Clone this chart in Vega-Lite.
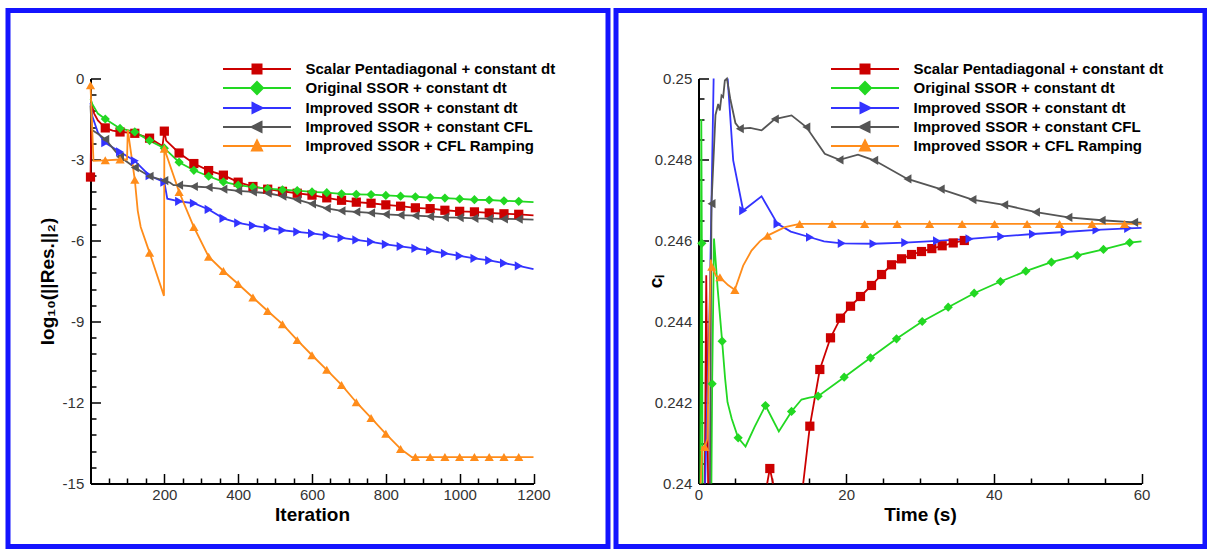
{
  "$schema": "https://vega.github.io/schema/vega-lite/v6.json",
  "padding": {"left": 5, "top": 7.5, "right": 0, "bottom": 0},
  "autosize": {"type": "pad"},
  "background": "white",
  "spacing": 2,
  "datasets": {
    "legend": [
      {"series": "Scalar Pentadiagonal + constant dt"},
      {"series": "Original SSOR + constant dt"},
      {"series": "Improved SSOR + constant dt"},
      {"series": "Improved SSOR + constant CFL"},
      {"series": "Improved SSOR + CFL Ramping"}
    ],
    "left": [
      {"series": "Scalar Pentadiagonal + constant dt", "x": 0, "y": -3.65, "marker": 1},
      {"series": "Scalar Pentadiagonal + constant dt", "x": 3, "y": -0.95, "marker": 0},
      {"series": "Scalar Pentadiagonal + constant dt", "x": 10, "y": -1.3, "marker": 0},
      {"series": "Scalar Pentadiagonal + constant dt", "x": 20, "y": -1.55, "marker": 0},
      {"series": "Scalar Pentadiagonal + constant dt", "x": 40, "y": -1.83, "marker": 1},
      {"series": "Scalar Pentadiagonal + constant dt", "x": 60, "y": -1.93, "marker": 0},
      {"series": "Scalar Pentadiagonal + constant dt", "x": 80, "y": -1.98, "marker": 1},
      {"series": "Scalar Pentadiagonal + constant dt", "x": 100, "y": -2.0, "marker": 0},
      {"series": "Scalar Pentadiagonal + constant dt", "x": 120, "y": -2.03, "marker": 1},
      {"series": "Scalar Pentadiagonal + constant dt", "x": 160, "y": -2.21, "marker": 1},
      {"series": "Scalar Pentadiagonal + constant dt", "x": 195, "y": -2.5, "marker": 0},
      {"series": "Scalar Pentadiagonal + constant dt", "x": 200, "y": -1.95, "marker": 1},
      {"series": "Scalar Pentadiagonal + constant dt", "x": 205, "y": -2.3, "marker": 0},
      {"series": "Scalar Pentadiagonal + constant dt", "x": 240, "y": -2.76, "marker": 1},
      {"series": "Scalar Pentadiagonal + constant dt", "x": 280, "y": -3.15, "marker": 1},
      {"series": "Scalar Pentadiagonal + constant dt", "x": 320, "y": -3.41, "marker": 1},
      {"series": "Scalar Pentadiagonal + constant dt", "x": 360, "y": -3.58, "marker": 1},
      {"series": "Scalar Pentadiagonal + constant dt", "x": 400, "y": -3.84, "marker": 1},
      {"series": "Scalar Pentadiagonal + constant dt", "x": 440, "y": -4.0, "marker": 1},
      {"series": "Scalar Pentadiagonal + constant dt", "x": 480, "y": -4.1, "marker": 1},
      {"series": "Scalar Pentadiagonal + constant dt", "x": 520, "y": -4.18, "marker": 1},
      {"series": "Scalar Pentadiagonal + constant dt", "x": 560, "y": -4.25, "marker": 1},
      {"series": "Scalar Pentadiagonal + constant dt", "x": 600, "y": -4.32, "marker": 1},
      {"series": "Scalar Pentadiagonal + constant dt", "x": 640, "y": -4.42, "marker": 1},
      {"series": "Scalar Pentadiagonal + constant dt", "x": 680, "y": -4.51, "marker": 1},
      {"series": "Scalar Pentadiagonal + constant dt", "x": 720, "y": -4.58, "marker": 1},
      {"series": "Scalar Pentadiagonal + constant dt", "x": 760, "y": -4.62, "marker": 1},
      {"series": "Scalar Pentadiagonal + constant dt", "x": 800, "y": -4.68, "marker": 1},
      {"series": "Scalar Pentadiagonal + constant dt", "x": 840, "y": -4.73, "marker": 1},
      {"series": "Scalar Pentadiagonal + constant dt", "x": 880, "y": -4.79, "marker": 1},
      {"series": "Scalar Pentadiagonal + constant dt", "x": 920, "y": -4.82, "marker": 1},
      {"series": "Scalar Pentadiagonal + constant dt", "x": 960, "y": -4.88, "marker": 1},
      {"series": "Scalar Pentadiagonal + constant dt", "x": 1000, "y": -4.92, "marker": 1},
      {"series": "Scalar Pentadiagonal + constant dt", "x": 1040, "y": -4.94, "marker": 1},
      {"series": "Scalar Pentadiagonal + constant dt", "x": 1080, "y": -4.98, "marker": 1},
      {"series": "Scalar Pentadiagonal + constant dt", "x": 1120, "y": -5.01, "marker": 1},
      {"series": "Scalar Pentadiagonal + constant dt", "x": 1160, "y": -5.03, "marker": 1},
      {"series": "Scalar Pentadiagonal + constant dt", "x": 1200, "y": -5.07, "marker": 0},

      {"series": "Original SSOR + constant dt", "x": 0, "y": -0.75, "marker": 0},
      {"series": "Original SSOR + constant dt", "x": 5, "y": -0.95, "marker": 0},
      {"series": "Original SSOR + constant dt", "x": 20, "y": -1.3, "marker": 0},
      {"series": "Original SSOR + constant dt", "x": 40, "y": -1.5, "marker": 1},
      {"series": "Original SSOR + constant dt", "x": 80, "y": -1.85, "marker": 1},
      {"series": "Original SSOR + constant dt", "x": 120, "y": -1.98, "marker": 1},
      {"series": "Original SSOR + constant dt", "x": 160, "y": -2.3, "marker": 1},
      {"series": "Original SSOR + constant dt", "x": 200, "y": -2.58, "marker": 1},
      {"series": "Original SSOR + constant dt", "x": 240, "y": -3.1, "marker": 1},
      {"series": "Original SSOR + constant dt", "x": 280, "y": -3.4, "marker": 1},
      {"series": "Original SSOR + constant dt", "x": 320, "y": -3.62, "marker": 1},
      {"series": "Original SSOR + constant dt", "x": 360, "y": -3.83, "marker": 1},
      {"series": "Original SSOR + constant dt", "x": 400, "y": -3.95, "marker": 1},
      {"series": "Original SSOR + constant dt", "x": 440, "y": -4.02, "marker": 1},
      {"series": "Original SSOR + constant dt", "x": 480, "y": -4.08, "marker": 1},
      {"series": "Original SSOR + constant dt", "x": 520, "y": -4.12, "marker": 1},
      {"series": "Original SSOR + constant dt", "x": 560, "y": -4.15, "marker": 1},
      {"series": "Original SSOR + constant dt", "x": 600, "y": -4.2, "marker": 1},
      {"series": "Original SSOR + constant dt", "x": 640, "y": -4.23, "marker": 1},
      {"series": "Original SSOR + constant dt", "x": 680, "y": -4.27, "marker": 1},
      {"series": "Original SSOR + constant dt", "x": 720, "y": -4.29, "marker": 1},
      {"series": "Original SSOR + constant dt", "x": 760, "y": -4.3, "marker": 1},
      {"series": "Original SSOR + constant dt", "x": 800, "y": -4.33, "marker": 1},
      {"series": "Original SSOR + constant dt", "x": 840, "y": -4.36, "marker": 1},
      {"series": "Original SSOR + constant dt", "x": 880, "y": -4.38, "marker": 1},
      {"series": "Original SSOR + constant dt", "x": 920, "y": -4.41, "marker": 1},
      {"series": "Original SSOR + constant dt", "x": 960, "y": -4.43, "marker": 1},
      {"series": "Original SSOR + constant dt", "x": 1000, "y": -4.46, "marker": 1},
      {"series": "Original SSOR + constant dt", "x": 1040, "y": -4.49, "marker": 1},
      {"series": "Original SSOR + constant dt", "x": 1080, "y": -4.5, "marker": 1},
      {"series": "Original SSOR + constant dt", "x": 1120, "y": -4.53, "marker": 1},
      {"series": "Original SSOR + constant dt", "x": 1160, "y": -4.55, "marker": 1},
      {"series": "Original SSOR + constant dt", "x": 1200, "y": -4.58, "marker": 0},

      {"series": "Improved SSOR + constant dt", "x": 0, "y": -0.9, "marker": 0},
      {"series": "Improved SSOR + constant dt", "x": 5, "y": -1.4, "marker": 0},
      {"series": "Improved SSOR + constant dt", "x": 20, "y": -2.0, "marker": 0},
      {"series": "Improved SSOR + constant dt", "x": 40, "y": -2.38, "marker": 1},
      {"series": "Improved SSOR + constant dt", "x": 80, "y": -2.72, "marker": 1},
      {"series": "Improved SSOR + constant dt", "x": 120, "y": -3.05, "marker": 1},
      {"series": "Improved SSOR + constant dt", "x": 160, "y": -3.6, "marker": 1},
      {"series": "Improved SSOR + constant dt", "x": 200, "y": -3.84, "marker": 1},
      {"series": "Improved SSOR + constant dt", "x": 208, "y": -4.45, "marker": 0},
      {"series": "Improved SSOR + constant dt", "x": 240, "y": -4.55, "marker": 1},
      {"series": "Improved SSOR + constant dt", "x": 280, "y": -4.62, "marker": 1},
      {"series": "Improved SSOR + constant dt", "x": 320, "y": -4.85, "marker": 1},
      {"series": "Improved SSOR + constant dt", "x": 360, "y": -5.18, "marker": 1},
      {"series": "Improved SSOR + constant dt", "x": 400, "y": -5.35, "marker": 1},
      {"series": "Improved SSOR + constant dt", "x": 440, "y": -5.45, "marker": 1},
      {"series": "Improved SSOR + constant dt", "x": 480, "y": -5.53, "marker": 1},
      {"series": "Improved SSOR + constant dt", "x": 520, "y": -5.62, "marker": 1},
      {"series": "Improved SSOR + constant dt", "x": 560, "y": -5.68, "marker": 1},
      {"series": "Improved SSOR + constant dt", "x": 600, "y": -5.74, "marker": 1},
      {"series": "Improved SSOR + constant dt", "x": 640, "y": -5.81, "marker": 1},
      {"series": "Improved SSOR + constant dt", "x": 680, "y": -5.9, "marker": 1},
      {"series": "Improved SSOR + constant dt", "x": 720, "y": -5.98, "marker": 1},
      {"series": "Improved SSOR + constant dt", "x": 760, "y": -6.05, "marker": 1},
      {"series": "Improved SSOR + constant dt", "x": 800, "y": -6.14, "marker": 1},
      {"series": "Improved SSOR + constant dt", "x": 840, "y": -6.22, "marker": 1},
      {"series": "Improved SSOR + constant dt", "x": 880, "y": -6.29, "marker": 1},
      {"series": "Improved SSOR + constant dt", "x": 920, "y": -6.38, "marker": 1},
      {"series": "Improved SSOR + constant dt", "x": 960, "y": -6.48, "marker": 1},
      {"series": "Improved SSOR + constant dt", "x": 1000, "y": -6.57, "marker": 1},
      {"series": "Improved SSOR + constant dt", "x": 1040, "y": -6.66, "marker": 1},
      {"series": "Improved SSOR + constant dt", "x": 1080, "y": -6.74, "marker": 1},
      {"series": "Improved SSOR + constant dt", "x": 1120, "y": -6.84, "marker": 1},
      {"series": "Improved SSOR + constant dt", "x": 1160, "y": -6.94, "marker": 1},
      {"series": "Improved SSOR + constant dt", "x": 1200, "y": -7.06, "marker": 0},

      {"series": "Improved SSOR + constant CFL", "x": 0, "y": -1.0, "marker": 0},
      {"series": "Improved SSOR + constant CFL", "x": 3, "y": -1.9, "marker": 0},
      {"series": "Improved SSOR + constant CFL", "x": 20, "y": -2.05, "marker": 0},
      {"series": "Improved SSOR + constant CFL", "x": 40, "y": -2.25, "marker": 1},
      {"series": "Improved SSOR + constant CFL", "x": 80, "y": -2.9, "marker": 1},
      {"series": "Improved SSOR + constant CFL", "x": 120, "y": -3.3, "marker": 1},
      {"series": "Improved SSOR + constant CFL", "x": 160, "y": -3.62, "marker": 1},
      {"series": "Improved SSOR + constant CFL", "x": 200, "y": -3.78, "marker": 1},
      {"series": "Improved SSOR + constant CFL", "x": 215, "y": -3.85, "marker": 0},
      {"series": "Improved SSOR + constant CFL", "x": 225, "y": -3.95, "marker": 0},
      {"series": "Improved SSOR + constant CFL", "x": 240, "y": -3.95, "marker": 1},
      {"series": "Improved SSOR + constant CFL", "x": 280, "y": -4.0, "marker": 1},
      {"series": "Improved SSOR + constant CFL", "x": 320, "y": -4.03, "marker": 1},
      {"series": "Improved SSOR + constant CFL", "x": 360, "y": -4.1, "marker": 1},
      {"series": "Improved SSOR + constant CFL", "x": 400, "y": -4.16, "marker": 1},
      {"series": "Improved SSOR + constant CFL", "x": 440, "y": -4.2, "marker": 1},
      {"series": "Improved SSOR + constant CFL", "x": 480, "y": -4.25, "marker": 1},
      {"series": "Improved SSOR + constant CFL", "x": 520, "y": -4.36, "marker": 1},
      {"series": "Improved SSOR + constant CFL", "x": 560, "y": -4.49, "marker": 1},
      {"series": "Improved SSOR + constant CFL", "x": 600, "y": -4.64, "marker": 1},
      {"series": "Improved SSOR + constant CFL", "x": 640, "y": -4.81, "marker": 1},
      {"series": "Improved SSOR + constant CFL", "x": 680, "y": -4.9, "marker": 1},
      {"series": "Improved SSOR + constant CFL", "x": 720, "y": -4.94, "marker": 1},
      {"series": "Improved SSOR + constant CFL", "x": 760, "y": -4.98, "marker": 1},
      {"series": "Improved SSOR + constant CFL", "x": 800, "y": -5.03, "marker": 1},
      {"series": "Improved SSOR + constant CFL", "x": 840, "y": -5.06, "marker": 1},
      {"series": "Improved SSOR + constant CFL", "x": 880, "y": -5.08, "marker": 1},
      {"series": "Improved SSOR + constant CFL", "x": 920, "y": -5.11, "marker": 1},
      {"series": "Improved SSOR + constant CFL", "x": 960, "y": -5.14, "marker": 1},
      {"series": "Improved SSOR + constant CFL", "x": 1000, "y": -5.15, "marker": 1},
      {"series": "Improved SSOR + constant CFL", "x": 1040, "y": -5.18, "marker": 1},
      {"series": "Improved SSOR + constant CFL", "x": 1080, "y": -5.19, "marker": 1},
      {"series": "Improved SSOR + constant CFL", "x": 1120, "y": -5.2, "marker": 1},
      {"series": "Improved SSOR + constant CFL", "x": 1160, "y": -5.21, "marker": 1},
      {"series": "Improved SSOR + constant CFL", "x": 1200, "y": -5.23, "marker": 0},

      {"series": "Improved SSOR + CFL Ramping", "x": 0, "y": -0.25, "marker": 1},
      {"series": "Improved SSOR + CFL Ramping", "x": 8, "y": -3.05, "marker": 0},
      {"series": "Improved SSOR + CFL Ramping", "x": 40, "y": -3.03, "marker": 1},
      {"series": "Improved SSOR + CFL Ramping", "x": 80, "y": -3.0, "marker": 1},
      {"series": "Improved SSOR + CFL Ramping", "x": 99, "y": -3.0, "marker": 0},
      {"series": "Improved SSOR + CFL Ramping", "x": 101, "y": -1.9, "marker": 0},
      {"series": "Improved SSOR + CFL Ramping", "x": 120, "y": -3.75, "marker": 1},
      {"series": "Improved SSOR + CFL Ramping", "x": 128, "y": -4.9, "marker": 0},
      {"series": "Improved SSOR + CFL Ramping", "x": 136, "y": -5.5, "marker": 0},
      {"series": "Improved SSOR + CFL Ramping", "x": 160, "y": -6.45, "marker": 1},
      {"series": "Improved SSOR + CFL Ramping", "x": 199, "y": -8.05, "marker": 0},
      {"series": "Improved SSOR + CFL Ramping", "x": 200, "y": -2.6, "marker": 1},
      {"series": "Improved SSOR + CFL Ramping", "x": 240, "y": -4.2, "marker": 1},
      {"series": "Improved SSOR + CFL Ramping", "x": 280, "y": -5.5, "marker": 1},
      {"series": "Improved SSOR + CFL Ramping", "x": 320, "y": -6.6, "marker": 1},
      {"series": "Improved SSOR + CFL Ramping", "x": 360, "y": -7.13, "marker": 1},
      {"series": "Improved SSOR + CFL Ramping", "x": 400, "y": -7.61, "marker": 1},
      {"series": "Improved SSOR + CFL Ramping", "x": 440, "y": -8.11, "marker": 1},
      {"series": "Improved SSOR + CFL Ramping", "x": 480, "y": -8.61, "marker": 1},
      {"series": "Improved SSOR + CFL Ramping", "x": 520, "y": -9.1, "marker": 1},
      {"series": "Improved SSOR + CFL Ramping", "x": 560, "y": -9.69, "marker": 1},
      {"series": "Improved SSOR + CFL Ramping", "x": 600, "y": -10.25, "marker": 1},
      {"series": "Improved SSOR + CFL Ramping", "x": 640, "y": -10.79, "marker": 1},
      {"series": "Improved SSOR + CFL Ramping", "x": 680, "y": -11.35, "marker": 1},
      {"series": "Improved SSOR + CFL Ramping", "x": 720, "y": -11.99, "marker": 1},
      {"series": "Improved SSOR + CFL Ramping", "x": 760, "y": -12.57, "marker": 1},
      {"series": "Improved SSOR + CFL Ramping", "x": 800, "y": -13.16, "marker": 1},
      {"series": "Improved SSOR + CFL Ramping", "x": 840, "y": -13.72, "marker": 1},
      {"series": "Improved SSOR + CFL Ramping", "x": 870, "y": -14.02, "marker": 0},
      {"series": "Improved SSOR + CFL Ramping", "x": 880, "y": -14.02, "marker": 1},
      {"series": "Improved SSOR + CFL Ramping", "x": 920, "y": -14.02, "marker": 1},
      {"series": "Improved SSOR + CFL Ramping", "x": 960, "y": -14.02, "marker": 1},
      {"series": "Improved SSOR + CFL Ramping", "x": 1000, "y": -14.02, "marker": 1},
      {"series": "Improved SSOR + CFL Ramping", "x": 1040, "y": -14.02, "marker": 1},
      {"series": "Improved SSOR + CFL Ramping", "x": 1080, "y": -14.02, "marker": 1},
      {"series": "Improved SSOR + CFL Ramping", "x": 1120, "y": -14.02, "marker": 1},
      {"series": "Improved SSOR + CFL Ramping", "x": 1160, "y": -14.02, "marker": 1},
      {"series": "Improved SSOR + CFL Ramping", "x": 1200, "y": -14.02, "marker": 0}
    ],
    "right": [
      {"series": "Scalar Pentadiagonal + constant dt", "seg": 0, "x": 0.85, "y": 0.24, "marker": 0},
      {"series": "Scalar Pentadiagonal + constant dt", "seg": 0, "x": 1.05, "y": 0.24514, "marker": 0},
      {"series": "Scalar Pentadiagonal + constant dt", "seg": 0, "x": 1.3, "y": 0.24, "marker": 0},
      {"series": "Scalar Pentadiagonal + constant dt", "seg": 1, "x": 9.3, "y": 0.24, "marker": 0},
      {"series": "Scalar Pentadiagonal + constant dt", "seg": 1, "x": 9.66, "y": 0.24037, "marker": 1},
      {"series": "Scalar Pentadiagonal + constant dt", "seg": 1, "x": 10.1, "y": 0.24, "marker": 0},
      {"series": "Scalar Pentadiagonal + constant dt", "seg": 2, "x": 14.18, "y": 0.24, "marker": 0},
      {"series": "Scalar Pentadiagonal + constant dt", "seg": 2, "x": 15.08, "y": 0.241415, "marker": 1},
      {"series": "Scalar Pentadiagonal + constant dt", "seg": 2, "x": 16.43, "y": 0.242815, "marker": 1},
      {"series": "Scalar Pentadiagonal + constant dt", "seg": 2, "x": 17.88, "y": 0.243597, "marker": 1},
      {"series": "Scalar Pentadiagonal + constant dt", "seg": 2, "x": 19.23, "y": 0.244082, "marker": 1},
      {"series": "Scalar Pentadiagonal + constant dt", "seg": 2, "x": 20.59, "y": 0.244378, "marker": 1},
      {"series": "Scalar Pentadiagonal + constant dt", "seg": 2, "x": 21.94, "y": 0.244617, "marker": 1},
      {"series": "Scalar Pentadiagonal + constant dt", "seg": 2, "x": 23.43, "y": 0.244889, "marker": 1},
      {"series": "Scalar Pentadiagonal + constant dt", "seg": 2, "x": 24.79, "y": 0.24516, "marker": 1},
      {"series": "Scalar Pentadiagonal + constant dt", "seg": 2, "x": 26.14, "y": 0.2454, "marker": 1},
      {"series": "Scalar Pentadiagonal + constant dt", "seg": 2, "x": 27.5, "y": 0.245548, "marker": 1},
      {"series": "Scalar Pentadiagonal + constant dt", "seg": 2, "x": 28.85, "y": 0.245654, "marker": 1},
      {"series": "Scalar Pentadiagonal + constant dt", "seg": 2, "x": 30.2, "y": 0.245728, "marker": 1},
      {"series": "Scalar Pentadiagonal + constant dt", "seg": 2, "x": 31.6, "y": 0.2458, "marker": 1},
      {"series": "Scalar Pentadiagonal + constant dt", "seg": 2, "x": 33.0, "y": 0.24587, "marker": 1},
      {"series": "Scalar Pentadiagonal + constant dt", "seg": 2, "x": 34.5, "y": 0.24594, "marker": 1},
      {"series": "Scalar Pentadiagonal + constant dt", "seg": 2, "x": 36.0, "y": 0.246, "marker": 1},
      {"series": "Scalar Pentadiagonal + constant dt", "seg": 2, "x": 36.4, "y": 0.24602, "marker": 0},

      {"series": "Original SSOR + constant dt", "seg": 0, "x": 0.25, "y": 0.24, "marker": 0},
      {"series": "Original SSOR + constant dt", "seg": 0, "x": 0.38, "y": 0.249, "marker": 0},
      {"series": "Original SSOR + constant dt", "seg": 0, "x": 0.45, "y": 0.24593, "marker": 1},
      {"series": "Original SSOR + constant dt", "seg": 0, "x": 0.55, "y": 0.24, "marker": 0},
      {"series": "Original SSOR + constant dt", "seg": 1, "x": 1.75, "y": 0.24, "marker": 0},
      {"series": "Original SSOR + constant dt", "seg": 1, "x": 1.85, "y": 0.24246, "marker": 1},
      {"series": "Original SSOR + constant dt", "seg": 1, "x": 2.1, "y": 0.24605, "marker": 0},
      {"series": "Original SSOR + constant dt", "seg": 1, "x": 2.6, "y": 0.2448, "marker": 0},
      {"series": "Original SSOR + constant dt", "seg": 1, "x": 3.2, "y": 0.243514, "marker": 1},
      {"series": "Original SSOR + constant dt", "seg": 1, "x": 3.6, "y": 0.2426, "marker": 0},
      {"series": "Original SSOR + constant dt", "seg": 1, "x": 3.93, "y": 0.242007, "marker": 0},
      {"series": "Original SSOR + constant dt", "seg": 1, "x": 4.5, "y": 0.2416, "marker": 0},
      {"series": "Original SSOR + constant dt", "seg": 1, "x": 5.37, "y": 0.241128, "marker": 1},
      {"series": "Original SSOR + constant dt", "seg": 1, "x": 6.37, "y": 0.240914, "marker": 0},
      {"series": "Original SSOR + constant dt", "seg": 1, "x": 7.6, "y": 0.2414, "marker": 0},
      {"series": "Original SSOR + constant dt", "seg": 1, "x": 9.07, "y": 0.241926, "marker": 1},
      {"series": "Original SSOR + constant dt", "seg": 1, "x": 10.88, "y": 0.241284, "marker": 0},
      {"series": "Original SSOR + constant dt", "seg": 1, "x": 12.6, "y": 0.24178, "marker": 1},
      {"series": "Original SSOR + constant dt", "seg": 1, "x": 13.95, "y": 0.242074, "marker": 0},
      {"series": "Original SSOR + constant dt", "seg": 1, "x": 15.0, "y": 0.24212, "marker": 0},
      {"series": "Original SSOR + constant dt", "seg": 1, "x": 16.2, "y": 0.242156, "marker": 1},
      {"series": "Original SSOR + constant dt", "seg": 1, "x": 19.73, "y": 0.242625, "marker": 1},
      {"series": "Original SSOR + constant dt", "seg": 1, "x": 23.3, "y": 0.243104, "marker": 1},
      {"series": "Original SSOR + constant dt", "seg": 1, "x": 26.82, "y": 0.243573, "marker": 1},
      {"series": "Original SSOR + constant dt", "seg": 1, "x": 30.3, "y": 0.244, "marker": 1},
      {"series": "Original SSOR + constant dt", "seg": 1, "x": 33.82, "y": 0.244353, "marker": 1},
      {"series": "Original SSOR + constant dt", "seg": 1, "x": 37.34, "y": 0.244699, "marker": 1},
      {"series": "Original SSOR + constant dt", "seg": 1, "x": 40.9, "y": 0.244988, "marker": 1},
      {"series": "Original SSOR + constant dt", "seg": 1, "x": 44.33, "y": 0.245242, "marker": 1},
      {"series": "Original SSOR + constant dt", "seg": 1, "x": 47.8, "y": 0.245464, "marker": 1},
      {"series": "Original SSOR + constant dt", "seg": 1, "x": 51.3, "y": 0.24563, "marker": 1},
      {"series": "Original SSOR + constant dt", "seg": 1, "x": 54.85, "y": 0.24578, "marker": 1},
      {"series": "Original SSOR + constant dt", "seg": 1, "x": 58.4, "y": 0.24595, "marker": 1},
      {"series": "Original SSOR + constant dt", "seg": 1, "x": 60, "y": 0.24598, "marker": 0},

      {"series": "Improved SSOR + constant dt", "seg": 0, "x": 0.9, "y": 0.24, "marker": 0},
      {"series": "Improved SSOR + constant dt", "seg": 0, "x": 1.5, "y": 0.2443, "marker": 0},
      {"series": "Improved SSOR + constant dt", "seg": 0, "x": 2.05, "y": 0.25, "marker": 0},
      {"series": "Improved SSOR + constant dt", "seg": 1, "x": 3.95, "y": 0.25, "marker": 0},
      {"series": "Improved SSOR + constant dt", "seg": 1, "x": 4.7, "y": 0.24798, "marker": 0},
      {"series": "Improved SSOR + constant dt", "seg": 1, "x": 6.05, "y": 0.24674, "marker": 1},
      {"series": "Improved SSOR + constant dt", "seg": 1, "x": 8.54, "y": 0.24709, "marker": 0},
      {"series": "Improved SSOR + constant dt", "seg": 1, "x": 10.7, "y": 0.24641, "marker": 1},
      {"series": "Improved SSOR + constant dt", "seg": 1, "x": 12.5, "y": 0.24622, "marker": 0},
      {"series": "Improved SSOR + constant dt", "seg": 1, "x": 15.1, "y": 0.24608, "marker": 1},
      {"series": "Improved SSOR + constant dt", "seg": 1, "x": 17.0, "y": 0.24598, "marker": 0},
      {"series": "Improved SSOR + constant dt", "seg": 1, "x": 19.4, "y": 0.24593, "marker": 1},
      {"series": "Improved SSOR + constant dt", "seg": 1, "x": 23.7, "y": 0.24592, "marker": 1},
      {"series": "Improved SSOR + constant dt", "seg": 1, "x": 28.0, "y": 0.24595, "marker": 1},
      {"series": "Improved SSOR + constant dt", "seg": 1, "x": 32.3, "y": 0.24599, "marker": 1},
      {"series": "Improved SSOR + constant dt", "seg": 1, "x": 36.7, "y": 0.24604, "marker": 1},
      {"series": "Improved SSOR + constant dt", "seg": 1, "x": 41.0, "y": 0.2461, "marker": 1},
      {"series": "Improved SSOR + constant dt", "seg": 1, "x": 45.3, "y": 0.24616, "marker": 1},
      {"series": "Improved SSOR + constant dt", "seg": 1, "x": 49.6, "y": 0.24621, "marker": 1},
      {"series": "Improved SSOR + constant dt", "seg": 1, "x": 53.9, "y": 0.24626, "marker": 1},
      {"series": "Improved SSOR + constant dt", "seg": 1, "x": 58.2, "y": 0.2463, "marker": 1},
      {"series": "Improved SSOR + constant dt", "seg": 1, "x": 60, "y": 0.24631, "marker": 0},

      {"series": "Improved SSOR + constant CFL", "seg": 0, "x": 1.55, "y": 0.24, "marker": 0},
      {"series": "Improved SSOR + constant CFL", "seg": 0, "x": 1.76, "y": 0.24691, "marker": 1},
      {"series": "Improved SSOR + constant CFL", "seg": 0, "x": 2.3, "y": 0.2491, "marker": 0},
      {"series": "Improved SSOR + constant CFL", "seg": 0, "x": 2.67, "y": 0.24937, "marker": 0},
      {"series": "Improved SSOR + constant CFL", "seg": 0, "x": 2.89, "y": 0.24921, "marker": 0},
      {"series": "Improved SSOR + constant CFL", "seg": 0, "x": 3.12, "y": 0.24958, "marker": 0},
      {"series": "Improved SSOR + constant CFL", "seg": 0, "x": 3.34, "y": 0.24954, "marker": 0},
      {"series": "Improved SSOR + constant CFL", "seg": 0, "x": 3.57, "y": 0.24995, "marker": 0},
      {"series": "Improved SSOR + constant CFL", "seg": 0, "x": 3.85, "y": 0.25, "marker": 0},
      {"series": "Improved SSOR + constant CFL", "seg": 0, "x": 4.3, "y": 0.2495, "marker": 0},
      {"series": "Improved SSOR + constant CFL", "seg": 0, "x": 5.0, "y": 0.2489, "marker": 0},
      {"series": "Improved SSOR + constant CFL", "seg": 0, "x": 5.6, "y": 0.24876, "marker": 1},
      {"series": "Improved SSOR + constant CFL", "seg": 0, "x": 7.0, "y": 0.24878, "marker": 0},
      {"series": "Improved SSOR + constant CFL", "seg": 0, "x": 8.54, "y": 0.24872, "marker": 0},
      {"series": "Improved SSOR + constant CFL", "seg": 0, "x": 10.34, "y": 0.249, "marker": 1},
      {"series": "Improved SSOR + constant CFL", "seg": 0, "x": 12.6, "y": 0.24909, "marker": 0},
      {"series": "Improved SSOR + constant CFL", "seg": 0, "x": 14.6, "y": 0.2488, "marker": 1},
      {"series": "Improved SSOR + constant CFL", "seg": 0, "x": 17.1, "y": 0.24814, "marker": 0},
      {"series": "Improved SSOR + constant CFL", "seg": 0, "x": 19.1, "y": 0.24799, "marker": 1},
      {"series": "Improved SSOR + constant CFL", "seg": 0, "x": 21.6, "y": 0.24812, "marker": 0},
      {"series": "Improved SSOR + constant CFL", "seg": 0, "x": 23.8, "y": 0.24798, "marker": 1},
      {"series": "Improved SSOR + constant CFL", "seg": 0, "x": 28.3, "y": 0.24752, "marker": 1},
      {"series": "Improved SSOR + constant CFL", "seg": 0, "x": 32.8, "y": 0.24727, "marker": 1},
      {"series": "Improved SSOR + constant CFL", "seg": 0, "x": 37.1, "y": 0.24701, "marker": 1},
      {"series": "Improved SSOR + constant CFL", "seg": 0, "x": 41.4, "y": 0.24688, "marker": 1},
      {"series": "Improved SSOR + constant CFL", "seg": 0, "x": 45.7, "y": 0.2467, "marker": 1},
      {"series": "Improved SSOR + constant CFL", "seg": 0, "x": 50.1, "y": 0.24657, "marker": 1},
      {"series": "Improved SSOR + constant CFL", "seg": 0, "x": 54.6, "y": 0.2465, "marker": 1},
      {"series": "Improved SSOR + constant CFL", "seg": 0, "x": 59.0, "y": 0.24645, "marker": 1},
      {"series": "Improved SSOR + constant CFL", "seg": 0, "x": 60, "y": 0.24644, "marker": 0},

      {"series": "Improved SSOR + CFL Ramping", "seg": 0, "x": 0.3, "y": 0.24, "marker": 0},
      {"series": "Improved SSOR + CFL Ramping", "seg": 0, "x": 0.5, "y": 0.2409, "marker": 0},
      {"series": "Improved SSOR + CFL Ramping", "seg": 0, "x": 0.86, "y": 0.2409, "marker": 1},
      {"series": "Improved SSOR + CFL Ramping", "seg": 0, "x": 1.2, "y": 0.2411, "marker": 0},
      {"series": "Improved SSOR + CFL Ramping", "seg": 0, "x": 1.65, "y": 0.24553, "marker": 0},
      {"series": "Improved SSOR + CFL Ramping", "seg": 0, "x": 1.8, "y": 0.24535, "marker": 1},
      {"series": "Improved SSOR + CFL Ramping", "seg": 0, "x": 2.4, "y": 0.24512, "marker": 0},
      {"series": "Improved SSOR + CFL Ramping", "seg": 0, "x": 2.9, "y": 0.24509, "marker": 1},
      {"series": "Improved SSOR + CFL Ramping", "seg": 0, "x": 4.0, "y": 0.2449, "marker": 0},
      {"series": "Improved SSOR + CFL Ramping", "seg": 0, "x": 4.92, "y": 0.24478, "marker": 1},
      {"series": "Improved SSOR + CFL Ramping", "seg": 0, "x": 6.05, "y": 0.24538, "marker": 0},
      {"series": "Improved SSOR + CFL Ramping", "seg": 0, "x": 7.18, "y": 0.24575, "marker": 0},
      {"series": "Improved SSOR + CFL Ramping", "seg": 0, "x": 8.3, "y": 0.24598, "marker": 0},
      {"series": "Improved SSOR + CFL Ramping", "seg": 0, "x": 9.35, "y": 0.24612, "marker": 1},
      {"series": "Improved SSOR + CFL Ramping", "seg": 0, "x": 11.7, "y": 0.24633, "marker": 0},
      {"series": "Improved SSOR + CFL Ramping", "seg": 0, "x": 13.7, "y": 0.24641, "marker": 1},
      {"series": "Improved SSOR + CFL Ramping", "seg": 0, "x": 18.1, "y": 0.24641, "marker": 1},
      {"series": "Improved SSOR + CFL Ramping", "seg": 0, "x": 22.5, "y": 0.24641, "marker": 1},
      {"series": "Improved SSOR + CFL Ramping", "seg": 0, "x": 26.9, "y": 0.24641, "marker": 1},
      {"series": "Improved SSOR + CFL Ramping", "seg": 0, "x": 31.3, "y": 0.24641, "marker": 1},
      {"series": "Improved SSOR + CFL Ramping", "seg": 0, "x": 35.7, "y": 0.24641, "marker": 1},
      {"series": "Improved SSOR + CFL Ramping", "seg": 0, "x": 40.1, "y": 0.24641, "marker": 1},
      {"series": "Improved SSOR + CFL Ramping", "seg": 0, "x": 44.5, "y": 0.24641, "marker": 1},
      {"series": "Improved SSOR + CFL Ramping", "seg": 0, "x": 48.9, "y": 0.24641, "marker": 1},
      {"series": "Improved SSOR + CFL Ramping", "seg": 0, "x": 53.3, "y": 0.24641, "marker": 1},
      {"series": "Improved SSOR + CFL Ramping", "seg": 0, "x": 57.7, "y": 0.24641, "marker": 1},
      {"series": "Improved SSOR + CFL Ramping", "seg": 0, "x": 60, "y": 0.24641, "marker": 0}
    ]
  },
  "hconcat": [
    {
      "width": 600,
      "height": 536,
      "data": {"name": "left"},
      "layer": [
        {
          "mark": {"type": "line", "strokeWidth": 1.8},
          "encoding": {
            "x": {"field": "x", "type": "quantitative",
              "scale": {"domain": [0, 1200], "range": [82.5, 525.5], "nice": false, "zero": false},
              "axis": {"orient": "bottom", "values": [200, 400, 600, 800, 1000, 1200], "labelExpr": "toString(datum.value)", "tickSize": -10, "labelPadding": 13.5, "offset": -63, "title": "Iteration", "titleX": 304, "titleY": 37, "titleBaseline": "alphabetic"}},
            "y": {"field": "y", "type": "quantitative",
              "scale": {"domain": [-15, 0], "range": [473, 68], "nice": false, "zero": false},
              "axis": {"orient": "left", "values": [0, -3, -6, -9, -12, -15], "labelExpr": "toString(datum.value)", "tickSize": -10, "labelPadding": 16.7, "offset": -82.5, "title": "log₁₀(||Res.||₂)", "titleX": -37, "titleY": 270.5, "titleBaseline": "alphabetic", "titleAngle": 270}},
            "color": {"field": "series", "type": "nominal", "legend": null,
              "scale": {"domain": ["Scalar Pentadiagonal + constant dt", "Original SSOR + constant dt", "Improved SSOR + constant dt", "Improved SSOR + constant CFL", "Improved SSOR + CFL Ramping"], "range": ["#cc0000", "#22d822", "#3333ff", "#555555", "#ff8c1a"]}}
          }
        },
        {
          "transform": [{"filter": "datum.marker == 1"}],
          "mark": {"type": "point", "filled": true, "opacity": 1, "size": 85},
          "encoding": {
            "x": {"field": "x", "type": "quantitative",
              "scale": {"domain": [0, 1200], "range": [82.5, 525.5], "nice": false, "zero": false},
              "axis": {"orient": "bottom", "values": [50, 100, 150, 250, 300, 350, 450, 500, 550, 650, 700, 750, 850, 900, 950, 1050, 1100, 1150], "labels": false, "domain": false, "tickSize": -5.5, "offset": -63, "title": null}},
            "y": {"field": "y", "type": "quantitative",
              "scale": {"domain": [-15, 0], "range": [473, 68], "nice": false, "zero": false},
              "axis": {"orient": "left", "values": [-0.6, -1.2, -1.8, -2.4, -3.6, -4.2, -4.8, -5.4, -6.6, -7.2, -7.8, -8.4, -9.6, -10.2, -10.8, -11.4, -12.6, -13.2, -13.8, -14.4], "labels": false, "domain": false, "tickSize": -5.5, "offset": -82.5, "title": null}},
            "color": {"field": "series", "type": "nominal", "legend": null,
              "scale": {"domain": ["Scalar Pentadiagonal + constant dt", "Original SSOR + constant dt", "Improved SSOR + constant dt", "Improved SSOR + constant CFL", "Improved SSOR + CFL Ramping"], "range": ["#cc0000", "#22d822", "#3333ff", "#555555", "#ff8c1a"]}},
            "shape": {"field": "series", "type": "nominal", "legend": null,
              "scale": {"domain": ["Scalar Pentadiagonal + constant dt", "Original SSOR + constant dt", "Improved SSOR + constant dt", "Improved SSOR + constant CFL", "Improved SSOR + CFL Ramping"], "range": ["square", "diamond", "triangle-right", "triangle-left", "triangle-up"]}}
          }
        },
        {
          "data": {"name": "legend"},
          "mark": {"type": "point", "opacity": 0, "size": 100, "strokeWidth": 2},
          "encoding": {
            "stroke": {"field": "series", "type": "nominal",
              "scale": {"domain": ["Scalar Pentadiagonal + constant dt", "Original SSOR + constant dt", "Improved SSOR + constant dt", "Improved SSOR + constant CFL", "Improved SSOR + CFL Ramping"], "range": ["#cc0000", "#22d822", "#3333ff", "#555555", "#ff8c1a"]},
              "legend": {"orient": "none", "legendX": 241.5, "legendY": 51, "title": null}},
            "shape": {"field": "series", "type": "nominal",
              "scale": {"domain": ["Scalar Pentadiagonal + constant dt", "Original SSOR + constant dt", "Improved SSOR + constant dt", "Improved SSOR + constant CFL", "Improved SSOR + CFL Ramping"], "range": ["M-6.8,0H6.8M-0.9,-0.9H0.9V0.9H-0.9ZM-0.55,-0.55H0.55V0.55H-0.55ZM-0.2,-0.2H0.2V0.2H-0.2Z", "M-6.8,0H6.8M0,-1.2L1.2,0L0,1.2L-1.2,0ZM0,-0.8L0.8,0L0,0.8L-0.8,0ZM0,-0.4L0.4,0L0,0.4L-0.4,0Z", "M-6.8,0H6.8M-0.9,-1L1.1,0L-0.9,1ZM-0.63,-0.6L0.57,0L-0.63,0.6ZM-0.4,-0.25L0.1,0L-0.4,0.25Z", "M-6.8,0H6.8M0.9,-1L-1.1,0L0.9,1ZM0.63,-0.6L-0.57,0L0.63,0.6ZM0.4,-0.25L-0.1,0L0.4,0.25Z", "M-6.8,0H6.8M0,-1.1L1,0.9L-1,0.9ZM0,-0.57L0.6,0.63L-0.6,0.63ZM0,-0.1L0.25,0.4L-0.25,0.4Z"]},
              "legend": {"orient": "none", "legendX": 241.5, "legendY": 51, "title": null}}
          }
        }
      ],
      "resolve": {"scale": {"shape": "independent", "stroke": "independent"}, "axis": {"x": "independent", "y": "independent"}}
    },
    {
      "width": 589,
      "height": 536,
      "data": {"name": "right"},
      "layer": [
        {
          "mark": {"type": "line", "strokeWidth": 1.8},
          "encoding": {
            "x": {"field": "x", "type": "quantitative",
              "scale": {"domain": [0, 60], "range": [82.5, 525.5], "nice": false, "zero": false},
              "axis": {"orient": "bottom", "values": [0, 20, 40, 60], "labelExpr": "toString(datum.value)", "tickSize": -10, "labelPadding": 13.5, "offset": -63, "title": "Time (s)", "titleX": 304, "titleY": 37, "titleBaseline": "alphabetic"}},
            "y": {"field": "y", "type": "quantitative",
              "scale": {"domain": [0.24, 0.25], "range": [473, 68], "nice": false, "zero": false},
              "axis": {"orient": "left", "values": [0.24, 0.242, 0.244, 0.246, 0.248, 0.25], "labelExpr": "toString(datum.value)", "tickSize": -10, "labelPadding": 16.7, "offset": -82.5, "title": "cₗ", "titleX": -37.4, "titleY": 270.5, "titleBaseline": "alphabetic", "titleAngle": 270}},
            "color": {"field": "series", "type": "nominal", "legend": null,
              "scale": {"domain": ["Scalar Pentadiagonal + constant dt", "Original SSOR + constant dt", "Improved SSOR + constant dt", "Improved SSOR + constant CFL", "Improved SSOR + CFL Ramping"], "range": ["#cc0000", "#22d822", "#3333ff", "#555555", "#ff8c1a"]}},
            "detail": {"field": "seg", "type": "nominal"}
          }
        },
        {
          "transform": [{"filter": "datum.marker == 1"}],
          "mark": {"type": "point", "filled": true, "opacity": 1, "size": 85},
          "encoding": {
            "x": {"field": "x", "type": "quantitative",
              "scale": {"domain": [0, 60], "range": [82.5, 525.5], "nice": false, "zero": false},
              "axis": {"orient": "bottom", "values": [5, 10, 15, 25, 30, 35, 45, 50, 55], "labels": false, "domain": false, "tickSize": -5.5, "offset": -63, "title": null}},
            "y": {"field": "y", "type": "quantitative",
              "scale": {"domain": [0.24, 0.25], "range": [473, 68], "nice": false, "zero": false},
              "axis": {"orient": "left", "values": [0.2405, 0.241, 0.2415, 0.2425, 0.243, 0.2435, 0.2445, 0.245, 0.2455, 0.2465, 0.247, 0.2475, 0.2485, 0.249, 0.2495], "labels": false, "domain": false, "tickSize": -5.5, "offset": -82.5, "title": null}},
            "color": {"field": "series", "type": "nominal", "legend": null,
              "scale": {"domain": ["Scalar Pentadiagonal + constant dt", "Original SSOR + constant dt", "Improved SSOR + constant dt", "Improved SSOR + constant CFL", "Improved SSOR + CFL Ramping"], "range": ["#cc0000", "#22d822", "#3333ff", "#555555", "#ff8c1a"]}},
            "shape": {"field": "series", "type": "nominal", "legend": null,
              "scale": {"domain": ["Scalar Pentadiagonal + constant dt", "Original SSOR + constant dt", "Improved SSOR + constant dt", "Improved SSOR + constant CFL", "Improved SSOR + CFL Ramping"], "range": ["square", "diamond", "triangle-right", "triangle-left", "triangle-up"]}}
          }
        },
        {
          "data": {"name": "legend"},
          "mark": {"type": "point", "opacity": 0, "size": 100, "strokeWidth": 2},
          "encoding": {
            "stroke": {"field": "series", "type": "nominal",
              "scale": {"domain": ["Scalar Pentadiagonal + constant dt", "Original SSOR + constant dt", "Improved SSOR + constant dt", "Improved SSOR + constant CFL", "Improved SSOR + CFL Ramping"], "range": ["#cc0000", "#22d822", "#3333ff", "#555555", "#ff8c1a"]},
              "legend": {"orient": "none", "legendX": 241.5, "legendY": 51, "title": null}},
            "shape": {"field": "series", "type": "nominal",
              "scale": {"domain": ["Scalar Pentadiagonal + constant dt", "Original SSOR + constant dt", "Improved SSOR + constant dt", "Improved SSOR + constant CFL", "Improved SSOR + CFL Ramping"], "range": ["M-6.8,0H6.8M-0.9,-0.9H0.9V0.9H-0.9ZM-0.55,-0.55H0.55V0.55H-0.55ZM-0.2,-0.2H0.2V0.2H-0.2Z", "M-6.8,0H6.8M0,-1.2L1.2,0L0,1.2L-1.2,0ZM0,-0.8L0.8,0L0,0.8L-0.8,0ZM0,-0.4L0.4,0L0,0.4L-0.4,0Z", "M-6.8,0H6.8M-0.9,-1L1.1,0L-0.9,1ZM-0.63,-0.6L0.57,0L-0.63,0.6ZM-0.4,-0.25L0.1,0L-0.4,0.25Z", "M-6.8,0H6.8M0.9,-1L-1.1,0L0.9,1ZM0.63,-0.6L-0.57,0L0.63,0.6ZM0.4,-0.25L-0.1,0L0.4,0.25Z", "M-6.8,0H6.8M0,-1.1L1,0.9L-1,0.9ZM0,-0.57L0.6,0.63L-0.6,0.63ZM0,-0.1L0.25,0.4L-0.25,0.4Z"]},
              "legend": {"orient": "none", "legendX": 241.5, "legendY": 51, "title": null}}
          }
        }
      ],
      "resolve": {"scale": {"shape": "independent", "stroke": "independent"}, "axis": {"x": "independent", "y": "independent"}}
    }
  ],
  "config": {
    "font": "Liberation Sans",
    "view": {"stroke": "#1414ff", "strokeWidth": 5},
    "axis": {
      "grid": false,
      "domainColor": "#000000",
      "domainWidth": 2,
      "tickColor": "#000000",
      "tickWidth": 1.5,
      "labelColor": "#333333",
      "labelFont": "Liberation Sans",
      "labelFontSize": 15,
      "labelFlush": false,
      "labelOverlap": false,
      "titleFont": "Liberation Sans",
      "titleFontSize": 19,
      "titleFontWeight": "bold",
      "titleColor": "#000000"
    },
    "legend": {
      "labelFont": "Liberation Sans",
      "labelFontSize": 15,
      "labelFontWeight": "bold",
      "labelColor": "#000000",
      "labelLimit": 0,
      "labelOffset": 41,
      "rowPadding": 0,
      "padding": 0,
      "symbolSize": 100,
      "symbolStrokeWidth": 2
    }
  }
}
